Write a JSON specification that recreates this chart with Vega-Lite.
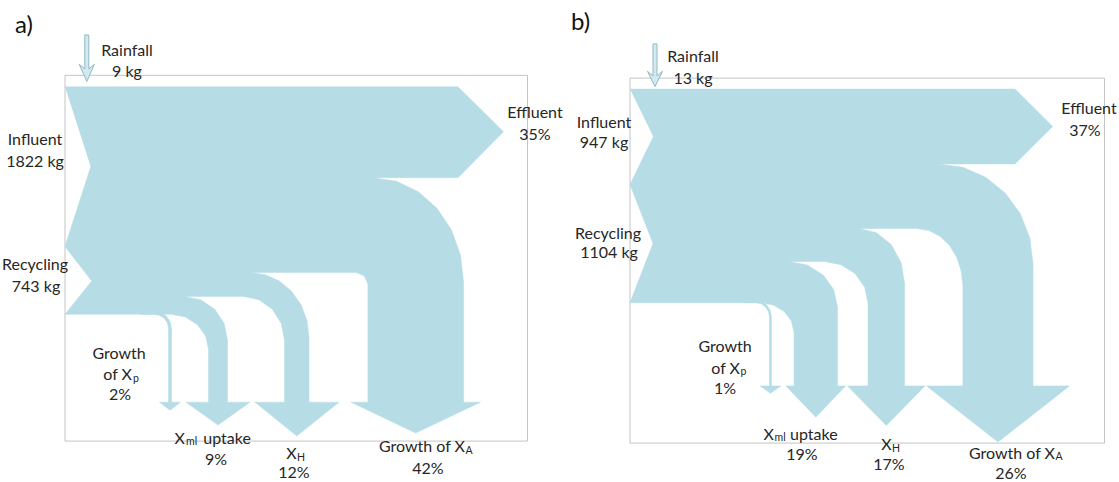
{
  "$schema": "https://vega.github.io/schema/vega-lite/v6.json",
  "width": 1119,
  "height": 482,
  "autosize": {"type": "fit", "contains": "padding"},
  "padding": 0,
  "background": "white",
  "config": {"view": {"stroke": null}, "text": {"font": "Lato", "color": "#262626", "baseline": "middle"}},
  "datasets": {
    "frames": [
      {"panel": "a", "x": 65, "x2": 527.5, "y": 75.5, "y2": 442},
      {"panel": "b", "x": 630, "x2": 1104.5, "y": 78.3, "y2": 444}
    ],
    "outlines": [
      {"s": "a-trunk", "k": "flow",
       "px": [65,458,503.5,458,373,396.4,418.3,437.1,451.5,460.5,463.6,463.6,480.5,415.7,351,367.9,367.9,364.4,355.9,250,265.3,279.5,291.7,301.1,307,309,309,339,296.8,255,284.5,284.5,281.3,272.3,258.9,243,184,200.6,214.8,224.2,227.5,227.5,250,218,186,208.5,208.5,205.6,197.5,185.4,171,65,91.7,65,90.7],
       "py": [87,87,132,178,178,181.6,192.1,208.8,230.5,255.8,283,403,403,434,403,403,285,276.5,273,273,275.2,281.7,292,305.5,321.2,338,403,403,437,403,403,341,324.2,309.9,300.3,297,297,300.3,309.9,324.2,341,403,403,426,403,403,350,336.6,325.3,317.7,315,315,281.7,247,167]},
      {"s": "a-xp", "k": "flow",
       "px": [140,154.5,161,166.5,170.2,171.5,171.5,180.5,170,159.5,168.5,168.5,167.4,164.4,159.9,154.5,140],
       "py": [312,312,313.3,317,322.5,329,403,403,411,403,403,329,323.6,319.1,316.1,315,315]},
      {"s": "b-trunk", "k": "flow",
       "px": [630,1015,1052.7,1015,938.6,963,985.8,1005.4,1020.4,1029.8,1033,1033,1069.5,998,926.5,962.9,962.9,961.3,956.8,949.5,940,928.9,917,859,876.5,891.2,901.1,904.6,904.6,925,886.3,847.5,868,868,864.7,855.2,841,824.3,788.6,807.3,823.2,833.8,837.5,837.5,845.5,815.8,786,794,794,791.4,784,773,760,630,653,630,653.3],
       "py": [89.3,89.3,126.7,164.3,164.3,167.7,177.7,193.6,214.3,238.4,264.3,386.7,386.7,443,386.7,386.7,287,272,258,246,236.8,231,229,229,233.2,245.1,263,284,386.7,386.7,426.5,386.7,386.7,304,287.9,274.3,265.2,262,262,265.5,275.5,290.4,308,386.7,386.7,418,386.7,386.7,333,321.6,312,305.6,303.3,303.3,244,185,137]},
      {"s": "b-xp", "k": "flow",
       "px": [745,756,761.9,767,770.3,771.5,771.5,781,770.5,760,769.5,769.5,768.5,765.5,761.2,756,745],
       "py": [301,301,302.3,306,311.5,318,386.7,386.7,394,386.7,386.7,318,312.4,307.6,304.4,303.3,303.3]},
      {"s": "a-rain", "k": "rain",
       "px": [84.8,88.8,88.8,94.3,86.8,79.3,84.8],
       "py": [35,35,69,64.5,81.7,64.5,69]},
      {"s": "b-rain", "k": "rain",
       "px": [653,657,657,662.5,655,647.5,653],
       "py": [44,44,76,71.5,86.7,71.5,76]}
    ],
    "labels": [
      {"r": "title", "x": 24, "y": 26, "t": "a)"},
      {"r": "title", "x": 580.5, "y": 23, "t": "b)"},
      {"r": "c", "x": 127, "y": 51, "t": "Rainfall"},
      {"r": "c", "x": 127, "y": 72, "t": "9 kg"},
      {"r": "c", "x": 35, "y": 140, "t": "Influent"},
      {"r": "c", "x": 35, "y": 162, "t": "1822 kg"},
      {"r": "c", "x": 35, "y": 266, "t": "Recycling"},
      {"r": "c", "x": 36, "y": 288, "t": "743 kg"},
      {"r": "c", "x": 535, "y": 113, "t": "Effluent"},
      {"r": "c", "x": 535, "y": 135, "t": "35%"},
      {"r": "c", "x": 119, "y": 355, "t": "Growth"},
      {"r": "e", "x": 132, "y": 376, "t": "of X"},
      {"r": "s", "x": 133, "y": 379.5, "t": "p"},
      {"r": "c", "x": 120, "y": 396, "t": "2%"},
      {"r": "e", "x": 185, "y": 440, "t": "X"},
      {"r": "s", "x": 186, "y": 443, "t": "ml"},
      {"r": "l", "x": 203.3, "y": 440, "t": "uptake"},
      {"r": "c", "x": 216, "y": 461, "t": "9%"},
      {"r": "e", "x": 296.7, "y": 455, "t": "X"},
      {"r": "s", "x": 297, "y": 458.5, "t": "H"},
      {"r": "c", "x": 294, "y": 474, "t": "12%"},
      {"r": "e", "x": 465, "y": 448, "t": "Growth of X"},
      {"r": "s", "x": 465.5, "y": 451.5, "t": "A"},
      {"r": "c", "x": 428, "y": 470, "t": "42%"},
      {"r": "c", "x": 693, "y": 57, "t": "Rainfall"},
      {"r": "c", "x": 693, "y": 79, "t": "13 kg"},
      {"r": "c", "x": 604, "y": 123, "t": "Influent"},
      {"r": "c", "x": 604, "y": 143, "t": "947 kg"},
      {"r": "c", "x": 608, "y": 234, "t": "Recycling"},
      {"r": "c", "x": 609, "y": 254, "t": "1104 kg"},
      {"r": "c", "x": 1089, "y": 109, "t": "Effluent"},
      {"r": "c", "x": 1085, "y": 131, "t": "37%"},
      {"r": "c", "x": 725, "y": 348, "t": "Growth"},
      {"r": "e", "x": 740, "y": 370, "t": "of X"},
      {"r": "s", "x": 740.5, "y": 373, "t": "p"},
      {"r": "c", "x": 725, "y": 390, "t": "1%"},
      {"r": "e", "x": 774, "y": 436, "t": "X"},
      {"r": "s", "x": 774.5, "y": 439, "t": "ml"},
      {"r": "l", "x": 790, "y": 436, "t": "uptake"},
      {"r": "c", "x": 802, "y": 456, "t": "19%"},
      {"r": "e", "x": 891.7, "y": 446, "t": "X"},
      {"r": "s", "x": 892, "y": 449.5, "t": "H"},
      {"r": "c", "x": 889, "y": 466, "t": "17%"},
      {"r": "e", "x": 1055, "y": 455, "t": "Growth  of X"},
      {"r": "s", "x": 1055.5, "y": 458, "t": "A"},
      {"r": "c", "x": 1011, "y": 475, "t": "26%"}
    ]
  },
  "encoding": {
    "x": {"field": "x", "type": "quantitative", "scale": {"domain": [0, 1119], "nice": false, "zero": false}, "axis": null},
    "y": {"field": "y", "type": "quantitative", "scale": {"domain": [0, 482], "nice": false, "zero": false, "reverse": true}, "axis": null}
  },
  "layer": [
    {
      "data": {"name": "frames"},
      "mark": {"type": "rect", "filled": false, "stroke": "#c4c4c4", "strokeWidth": 1},
      "encoding": {"x2": {"field": "x2"}, "y2": {"field": "y2"}}
    },
    {
      "data": {"name": "outlines"},
      "transform": [
        {"filter": "datum.k === 'flow'"},
        {"flatten": ["px", "py"], "as": ["x", "y"]}
      ],
      "mark": {"type": "line", "fill": "#b6dce6", "stroke": "#b6dce6", "strokeWidth": 0.5, "interpolate": "linear"},
      "encoding": {"detail": {"field": "s"}, "order": {"value": null}}
    },
    {
      "data": {"name": "outlines"},
      "transform": [
        {"filter": "datum.k === 'rain'"},
        {"flatten": ["px", "py"], "as": ["x", "y"]}
      ],
      "mark": {"type": "line", "fill": "#d3e9f0", "stroke": "#93b9c7", "strokeWidth": 1, "interpolate": "linear-closed"},
      "encoding": {"detail": {"field": "s"}, "order": {"value": null}}
    },
    {
      "data": {"name": "labels"},
      "transform": [{"filter": "datum.r === 'title'"}],
      "mark": {"type": "text", "align": "center", "fontSize": 24, "color": "#111"},
      "encoding": {"text": {"field": "t"}}
    },
    {
      "data": {"name": "labels"},
      "transform": [{"filter": "datum.r === 'c'"}],
      "mark": {"type": "text", "align": "center", "fontSize": 16},
      "encoding": {"text": {"field": "t"}}
    },
    {
      "data": {"name": "labels"},
      "transform": [{"filter": "datum.r === 'e'"}],
      "mark": {"type": "text", "align": "right", "fontSize": 16},
      "encoding": {"text": {"field": "t"}}
    },
    {
      "data": {"name": "labels"},
      "transform": [{"filter": "datum.r === 'l'"}],
      "mark": {"type": "text", "align": "left", "fontSize": 16},
      "encoding": {"text": {"field": "t"}}
    },
    {
      "data": {"name": "labels"},
      "transform": [{"filter": "datum.r === 's'"}],
      "mark": {"type": "text", "align": "left", "fontSize": 10.5},
      "encoding": {"text": {"field": "t"}}
    }
  ]
}
